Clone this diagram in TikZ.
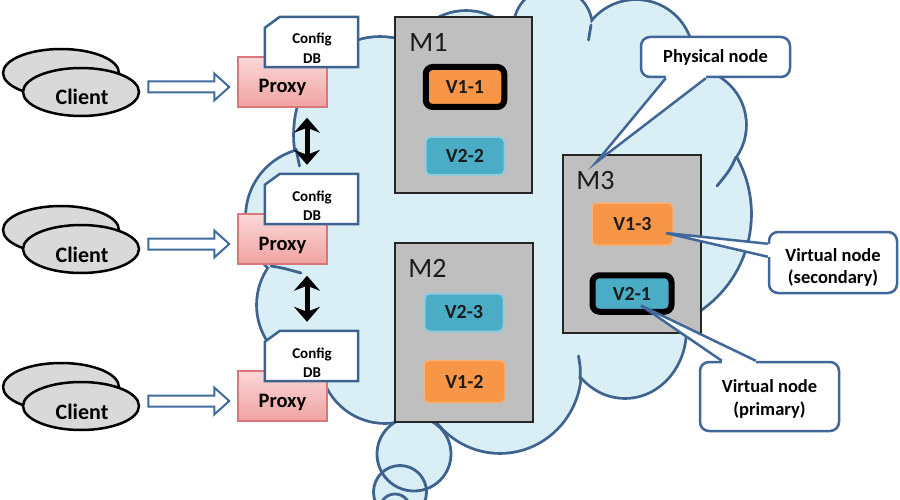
\documentclass[tikz,border=0pt]{standalone}
\usepackage{fontspec}
\setmainfont{Carlito}
\usetikzlibrary{calc,arrows.meta,shapes.geometric}
\definecolor{cloudfill}{HTML}{DAEEF5}
\definecolor{cloudline}{HTML}{3E638F}
\definecolor{arrowblue}{HTML}{3F6B9C}
\definecolor{mgray}{HTML}{BFBFBF}
\definecolor{mborder}{HTML}{262626}
\definecolor{vorange}{HTML}{F79646}
\definecolor{vorangeedge}{HTML}{F9AE74}
\definecolor{vblue}{HTML}{4BACC6}
\definecolor{vblueedge}{HTML}{8FCBDC}
\definecolor{vtext}{HTML}{1C1C1C}
\definecolor{proxytop}{HTML}{FBD8D8}
\definecolor{proxybot}{HTML}{F0A2A2}
\definecolor{proxyedge}{HTML}{D9777A}
\definecolor{clientfill}{HTML}{D9D9D9}
\definecolor{calloutline}{HTML}{41679A}
\begin{document}
\begin{tikzpicture}[x=1pt,y=-1pt,
 cloudstroke/.style={draw=cloudline,line width=5.6pt},
 cloudedge/.style={draw=cloudline,line width=2.8pt,line cap=round},
 clientell/.style={ellipse,draw=black,line width=2.5pt,fill=clientfill,minimum width=116pt,minimum height=48pt,inner sep=0pt},
 clienttxt/.style={anchor=base,inner sep=0pt,font=\fontsize{22pt}{26pt}\selectfont\bfseries},
 harrow/.style={draw=arrowblue,line width=2pt,fill=white,line join=miter},
 proxybox/.style={rectangle,draw=proxyedge,line width=1.5pt,top color=proxytop,bottom color=proxybot,minimum width=89pt,minimum height=50pt,inner sep=0pt},
 proxytxt/.style={anchor=base,inner sep=0pt,font=\fontsize{20.5pt}{24pt}\selectfont\bfseries},
 dbframe/.style={rectangle,minimum width=93pt,minimum height=50pt,inner sep=0pt},
 dbline/.style={draw=cloudline,line width=2.5pt,fill=white,line join=miter},
 dbtxt/.style={anchor=base,inner sep=0pt,font=\fontsize{15pt}{18pt}\selectfont\bfseries},
 syncarrow/.style={line width=5pt,{Stealth[length=15pt,width=26pt,inset=5pt]}-{Stealth[length=15pt,width=26pt,inset=5pt]}},
 mbox/.style={rectangle,draw=mborder,line width=1.5pt,fill=mgray,inner sep=0pt},
 mtxt/.style={anchor=base west,inner sep=0pt,font=\fontsize{28pt}{32pt}\selectfont,text=vtext},
 vtxtfont/.style={font=\fontsize{20pt}{24pt}\selectfont\bfseries,text=vtext},
 vorg/.style={rectangle,rounded corners=5pt,inner sep=0pt,fill=vorange,draw=vorangeedge,line width=1.5pt,minimum width=81pt,minimum height=42pt,vtxtfont},
 vblu/.style={rectangle,rounded corners=5pt,inner sep=0pt,fill=vblue,draw=vblueedge,line width=2pt,minimum width=79pt,minimum height=38pt,vtxtfont},
 vsel/.style={draw=black,line width=6pt,rounded corners=7pt,minimum width=79pt,minimum height=38pt},
 callbox/.style={rectangle,rounded corners=9pt,draw=calloutline,line width=2.5pt,fill=white,inner sep=0pt},
 calltxt/.style={anchor=base,inner sep=0pt,font=\fontsize{18.5pt}{22pt}\selectfont\bfseries},
 wedgeline/.style={draw=calloutline,line width=2.5pt,line join=miter}
]
\clip (0,0) rectangle (900,500);
\fill[white] (0,0) rectangle (900,500);

% ---------------- cloud ----------------
\def\bumps{380/135/85/97,466/72/60/60,553/27/38/38,636/57/56/56,690/125/55/55,634/214/116/116,625/330/60/67,500/370/80/82,385/358/64/64,323/305/65/65,315/217/68/68}
\foreach \cx/\cy/\rx/\ry in \bumps {\draw[cloudstroke] (\cx,\cy) ellipse [x radius=\rx, y radius=\ry];}
\foreach \cx/\cy/\rx/\ry in \bumps {\fill[cloudfill] (\cx,\cy) ellipse [x radius=\rx, y radius=\ry];}
\fill[cloudfill] (380,135) -- (466,72) -- (553,27) -- (636,57) -- (690,125) -- (634,214) -- (625,330) -- (500,370) -- (385,358) -- (323,305) -- (315,217) -- cycle;
% inner hooks
\draw[cloudedge] (296,149) .. controls (297.5,156) .. (299.5,166);
\draw[cloudedge] (271,266) .. controls (283,268) .. (301,273);
\draw[cloudedge] (591,25) .. controls (590.5,33) .. (588.5,40);
\draw[cloudedge] (736,157) .. controls (730,170) .. (717,186);
\draw[cloudedge] (580,379) .. controls (580.5,368) .. (578.5,356);
% thought bubbles
\fill[cloudfill] (414,454) circle [radius=37];
\fill[cloudfill] (400,492) circle [radius=26.5];
\fill[cloudfill] (395,509) circle [radius=15];
\draw[cloudedge] (414,454) circle [radius=37];
\draw[cloudedge] (400,492) circle [radius=26.5];
\draw[cloudedge] (395,509) circle [radius=15];

% ---------------- physical nodes ----------------
\node[mbox,minimum width=137pt,minimum height=176pt] (m1) at (463.5,105) {};
\node[mbox,minimum width=138pt,minimum height=179pt] (m2) at (464,332.5) {};
\node[mbox,minimum width=138pt,minimum height=178pt] (m3) at (632,244) {};
\node[mtxt] (m1t) at ($(m1.north west)+(15,35)$) {M1};
\node[mtxt] (m2t) at ($(m2.north west)+(14,35)$) {M2};
\node[mtxt] (m3t) at ($(m3.north west)+(14,35)$) {M3};

% ---------------- virtual nodes ----------------
\node[vorg,vsel,minimum width=78.5pt,minimum height=40pt] (v11) at (465,87) {V1-1};
\node[vblu] (v22) at (465,156) {V2-2};
\node[vblu] (v23) at (464,312.5) {V2-3};
\node[vorg] (v12) at (464.5,381.5) {V1-2};
\node[vorg] (v13) at (632.5,224) {V1-3};
\node[vblu,vsel,minimum width=79pt,minimum height=36.5pt] (v21) at (632,293.5) {V2-1};

% ---------------- callouts ----------------
\node[callbox,minimum width=149pt,minimum height=40pt] (pn) at (715.5,57) {};
\coordinate (pnb1) at ($(pn.south west)+(26,0)$);
\coordinate (pnb2) at ($(pn.south west)+(66,0)$);
\coordinate (pntip) at ($(m3.north west)+(34,8)$);
\fill[white] ($(pnb1)+(0,-3)$) -- (pnb1) -- (pntip) -- (pnb2) -- ($(pnb2)+(0,-3)$) -- cycle;
\draw[wedgeline] (pnb1) -- (pntip) -- (pnb2);
\node[calltxt] (pnt) at (715.5,63) {Physical node};

\node[callbox,minimum width=128pt,minimum height=61pt] (vs) at (833,262.5) {};
\coordinate (vsb1) at ($(vs.north west)+(0,13)$);
\coordinate (vsb2) at ($(vs.north west)+(0,26)$);
\coordinate (vstip) at ($(v13.east)+(-8,9)$);
\fill[white] ($(vsb1)+(3,0)$) -- (vsb1) -- (vstip) -- (vsb2) -- ($(vsb2)+(3,0)$) -- cycle;
\draw[wedgeline] (vsb1) -- (vstip) -- (vsb2);
\node[calltxt] (vst1) at (833,261) {Virtual node};
\node[calltxt] (vst2) at (833,283) {(secondary)};

\node[callbox,minimum width=139pt,minimum height=69pt] (vp) at (769.5,396.5) {};
\coordinate (vpb1) at ($(vp.north west)+(23,0)$);
\coordinate (vpb2) at ($(vp.north west)+(57,0)$);
\coordinate (vptip) at ($(v21.center)+(9,12)$);
\fill[white] ($(vpb1)+(0,3)$) -- (vpb1) -- (vptip) -- (vpb2) -- ($(vpb2)+(0,3)$) -- cycle;
\draw[wedgeline] (vpb1) -- (vptip) -- (vpb2);
\node[calltxt] (vpt1) at (769.5,392) {Virtual node};
\node[calltxt] (vpt2) at (769.5,415) {(primary)};

% ---------------- clients, proxies, config DBs ----------------
\foreach \k in {1,2,3}{
  \pgfmathsetmacro{\dy}{157*(\k-1)}
  \node[clientell] (cb\k) at (61,73+\dy) {};
  \node[clientell] (cf\k) at (81,92+\dy) {};
  \node[clienttxt] (ct\k) at (82,105+\dy) {Client};
  \node[proxybox] (p\k) at (282.5,82+\dy) {};
  \node[proxytxt] (pt\k) at (282.5,93+\dy) {Proxy};
  \node[dbframe] (db\k) at (311.5,42+\dy) {};
  \draw[dbline] (db\k.south west) -- (db\k.south east) -- (db\k.north east) -- ($(db\k.north west)+(15,0)$) -- ($(db\k.north west)+(0,11)$) -- cycle;
  \node[dbtxt] (dbt\k) at (312,44+\dy) {Config};
  \node[dbtxt] (dbu\k) at (312,63.5+\dy) {DB};
  \coordinate (hs\k) at ($(cf\k.east)+(8,-5)$);
  \coordinate (he\k) at ($(p\k.west)+(-8,5)$);
  \draw[harrow] ($(hs\k)+(0,-5.5)$) -- ($(he\k)+(-15,-5.5)$) -- ($(he\k)+(-15,-13.5)$) -- (he\k) -- ($(he\k)+(-15,13.5)$) -- ($(he\k)+(-15,5.5)$) -- ($(hs\k)+(0,5.5)$) -- cycle;
}
% replication arrows between proxies
\coordinate (sa1) at ($(p1.south)+(24.5,10)$);
\coordinate (sb1) at ($(db2.north)+(-4.5,-9)$);
\coordinate (sa2) at ($(p2.south)+(24.5,11)$);
\coordinate (sb2) at ($(db3.north)+(-4.5,-9)$);
\draw[syncarrow] (sa1) -- (sb1);
\draw[syncarrow] (sa2) -- (sb2);
\end{tikzpicture}
\end{document}
